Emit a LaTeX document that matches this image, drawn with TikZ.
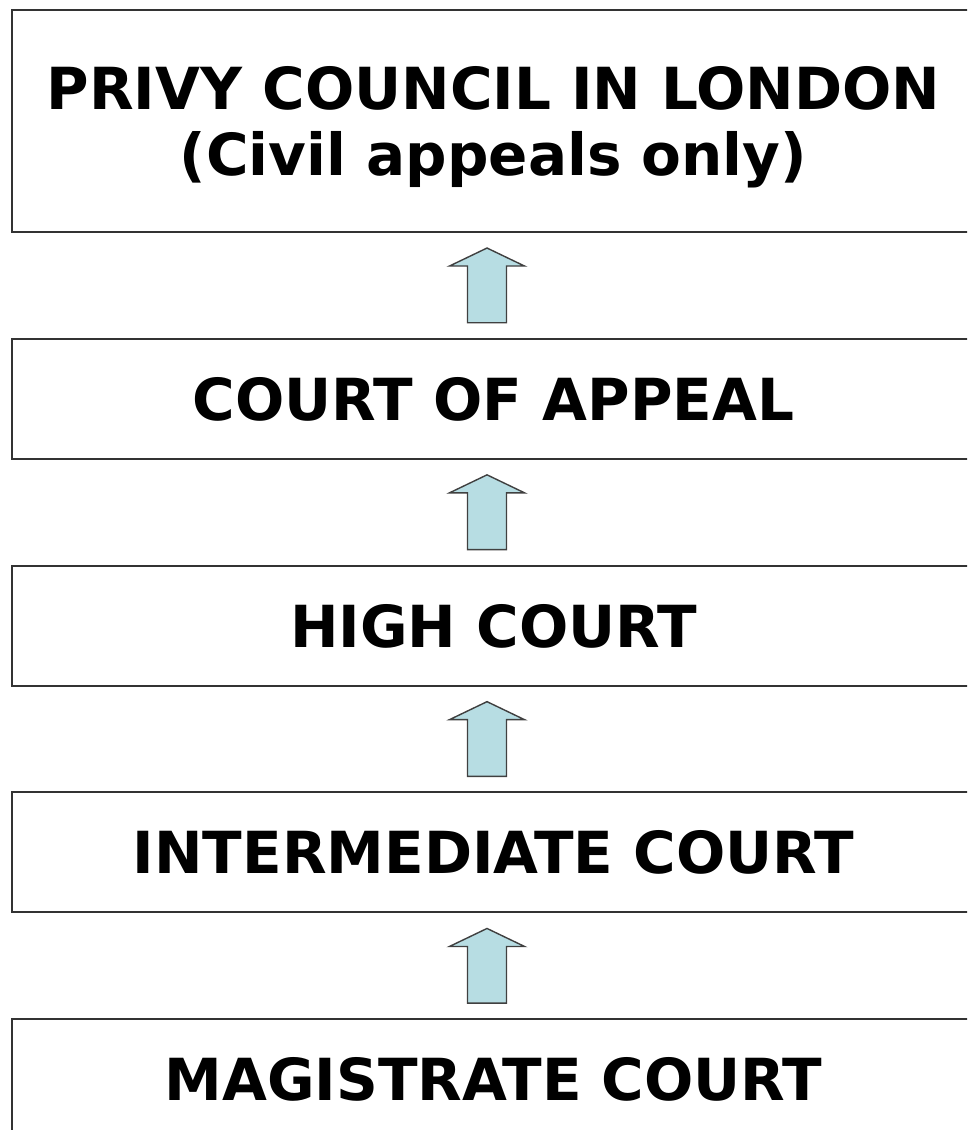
\documentclass[tikz,border=0pt]{standalone}
\usepackage{fontspec}
\setmainfont{DejaVu Sans}
\usepackage{xcolor}
\usepackage{tikz}
\usetikzlibrary{positioning,calc}
\definecolor{arrowfill}{HTML}{B7DDE3}
\definecolor{boxline}{HTML}{333333}
\tikzset{
    court/.style={draw=boxline, line width=0.6pt, fill=white, minimum width=9.63cm, minimum height=1.2cm, align=center, text depth=0pt, font=\fontsize{16.5pt}{18.8pt}\selectfont\bfseries},
    uparrow/.style={draw=black!75, line width=0.4pt, fill=arrowfill, line join=miter}
}

\begin{document}
\begin{tikzpicture}
    \clip (0,0) rectangle (9.67,11.30);
    \fill [white] (0,0) rectangle (9.67,11.30);

    % Courts
    \node [court, minimum height=2.22cm] (privy) at (4.935,10.09) {PRIVY COUNCIL IN LONDON\\(Civil appeals only)};
    \node [court, below=1.047cm of privy] (appeal) {COURT OF APPEAL};
    \node [court, below=1.047cm of appeal] (high) {HIGH COURT};
    \node [court, below=1.047cm of high] (inter) {INTERMEDIATE COURT};
    \node [court, below=1.047cm of inter] (magis) {MAGISTRATE COURT};

    % Appeal arrows
    \foreach \lo/\hi in {magis/inter, inter/high, high/appeal, appeal/privy} {
        \coordinate (b\lo) at ($(\lo.north)+(-0.065,0.15)$);
        \coordinate (t\lo) at ($(\hi.south)+(-0.065,-0.15)$);
        \draw [uparrow] ($(b\lo)+(-0.195,0)$) -- ($(t\lo)+(-0.195,-0.18)$) -- ++(-0.18,0) -- (t\lo)
            -- ($(t\lo)+(0.375,-0.18)$) -- ++(-0.18,0) -- ($(b\lo)+(0.195,0)$) -- cycle;
    }
\end{tikzpicture}
\end{document}
